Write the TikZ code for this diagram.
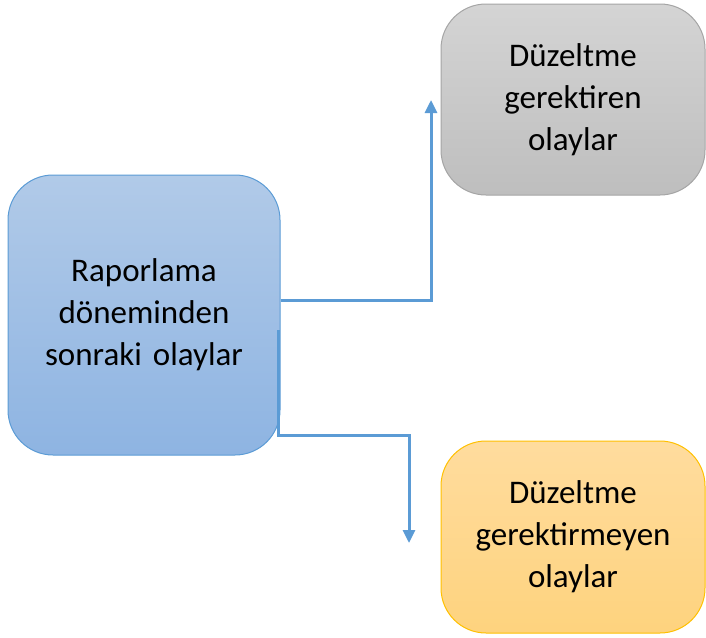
\documentclass[tikz,border=0pt]{standalone}
\usepackage{fontspec}
\setmainfont{Carlito}
\usetikzlibrary{arrows.meta}

\definecolor{boxblue}{HTML}{5B9BD5}
\definecolor{blueTop}{HTML}{B1CAE8}
\definecolor{blueBot}{HTML}{8EB4E2}
\definecolor{greyTop}{HTML}{D4D4D4}
\definecolor{greyBot}{HTML}{BEBEBE}
\definecolor{greyLine}{HTML}{A5A5A5}
\definecolor{yelTop}{HTML}{FFDC9E}
\definecolor{yelBot}{HTML}{FED37E}
\definecolor{yelLine}{HTML}{FFC000}

\begin{document}
\begin{tikzpicture}[x=1pt,y=-1pt]
	\tikzstyle{event}=[shape=rectangle,rounded corners=45pt,line width=1pt,align=center,
		text width=250pt,font=\fontsize{33}{42}\selectfont]
	\tikzstyle{link}=[draw=boxblue,line width=3pt,-{Triangle[length=13pt,width=12pt]}]
	
	\useasboundingbox (0,0) rectangle (706,637);
	
	\node[event,draw=boxblue,top color=blueTop,bottom color=blueBot,
		minimum width=272pt,minimum height=280pt](main) at (144,315)
		{Raporlama\\döneminden\\sonraki olaylar};
	\node[event,draw=greyLine,top color=greyTop,bottom color=greyBot,
		minimum width=264pt,minimum height=191pt](adj) at (573,99.5)
		{Düzeltme\\gerektiren\\olaylar};
	\node[event,draw=yelLine,top color=yelTop,bottom color=yelBot,
		minimum width=264pt,minimum height=192pt](nonadj) at (573,537)
		{Düzeltme\\gerektirmeyen\\olaylar};
	
	\coordinate (adjend) at (431,100);
	\coordinate (nonadjend) at (409,543);
	
	\draw[link] ([yshift=15pt]main.east) -| (adjend);
	\draw[link] ([shift={(-2pt,-15pt)}]main.east) |- (409,435) -- (nonadjend);
	
\end{tikzpicture}
\end{document}
